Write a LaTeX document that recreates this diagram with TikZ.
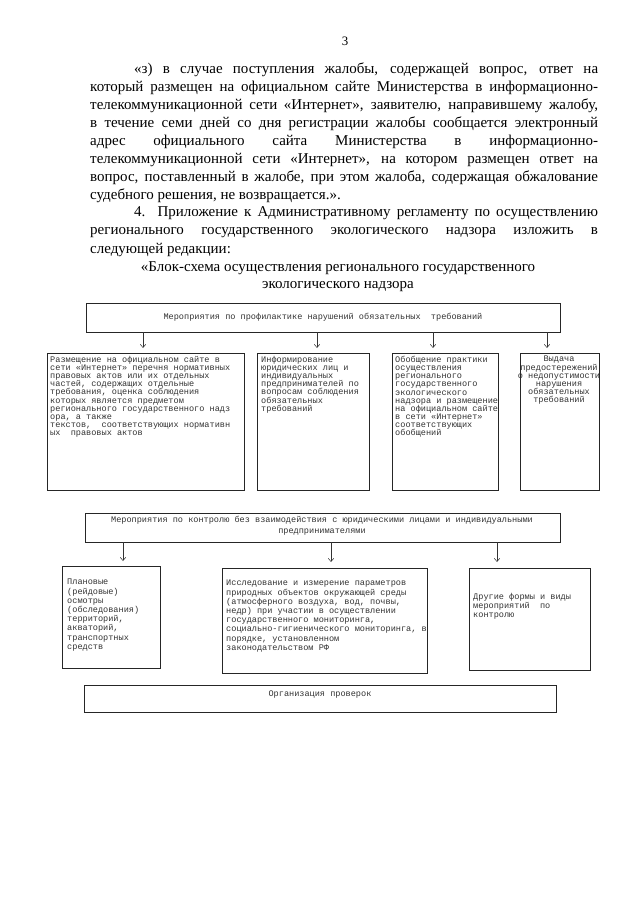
\documentclass[tikz,border=0pt]{standalone}
\usepackage{fontspec}
\setmainfont{Liberation Serif}
\newfontfamily\monofnt{Liberation Mono}
\newcommand{\tightlines}{\lineskiplimit=-5pt\relax}
\usetikzlibrary{arrows.meta,positioning,fit}

\begin{document}
\begin{tikzpicture}[x=0.0328cm,y=-0.0328cm,
    line/.style={anchor=base west,inner sep=0,font=\fontsize{14}{16}\selectfont},
    blk/.style={draw=black!85,line width=0.6pt,inner sep=0},
    btxt/.style={anchor=north west,inner sep=0,align=left,text=black!80,font=\monofnt\fontsize{8}{7.6}\selectfont\tightlines},
    ctxt/.style={inner sep=0,align=center,text=black!80,font=\monofnt\fontsize{8}{10}\selectfont},
    arr/.style={black!80,line width=0.5pt,-{Straight Barb[length=3pt,width=5pt]}}]
  \useasboundingbox[fill=white] (0,0) rectangle (640,905);
  % page number
  \node[font=\fontsize{12}{14}\selectfont] (pnum) at (345,41) {3};
  % text of the page
  \node[line] (l1) at (134,74) {\makebox[15.22cm][s]{«з) в случае поступления жалобы, содержащей вопрос, ответ на}};
  \node[line] (l2) at (90,92) {\makebox[16.66cm][s]{который размещен на официальном сайте Министерства в информационно-}};
  \node[line] (l3) at (90,110) {\makebox[16.66cm][s]{телекоммуникационной сети «Интернет», заявителю, направившему жалобу,}};
  \node[line] (l4) at (90,128) {\makebox[16.66cm][s]{в течение семи дней со дня регистрации жалобы сообщается электронный}};
  \node[line] (l5) at (90,146) {\makebox[16.66cm][s]{адрес официального сайта Министерства в информационно-}};
  \node[line] (l6) at (90,164) {\makebox[16.66cm][s]{телекоммуникационной сети «Интернет», на котором размещен ответ на}};
  \node[line] (l7) at (90,182) {\makebox[16.66cm][s]{вопрос, поставленный в жалобе, при этом жалоба, содержащая обжалование}};
  \node[line] (l8) at (90,200) {судебного решения, не возвращается.».};
  \node[line] (l9) at (134,217) {\makebox[15.22cm][s]{4. Приложение к Административному регламенту по осуществлению}};
  \node[line] (l10) at (90,235) {\makebox[16.66cm][s]{регионального государственного экологического надзора изложить в}};
  \node[line] (l11) at (90,253) {следующей редакции:};
  \node[line,anchor=base] (l12) at (338,271) {«Блок-схема осуществления регионального государственного};
  \node[line,anchor=base] (l13) at (338,288) {экологического надзора};
  % Draw prevention boxes
  \node[blk,fit={(86,303) (560,332)}] (prof) {};
  \node[ctxt] (proftxt) at (prof.center) {Мероприятия по профилактике нарушений обязательных\ \ требований};
  \node[blk,fit={(47,353) (244,490)}] (razm) {};
  \node[btxt] (razmtxt) at (50,356) {Размещение на официальном сайте в\\сети «Интернет» перечня нормативных\\правовых актов или их отдельных\\частей, содержащих отдельные\\требования, оценка соблюдения\\которых является предметом\\регионального государственного надз\\ора, а также\\текстов,\ \ соответствующих нормативн\\ых\ \ правовых актов};
  \node[blk,fit={(257,353) (369,490)}] (inf) {};
  \node[btxt] (inftxt) at (261,356) {Информирование\\юридических лиц и\\индивидуальных\\предпринимателей по\\вопросам соблюдения\\обязательных\\требований};
  \node[blk,fit={(392,353) (498,490)}] (obob) {};
  \node[btxt] (obobtxt) at (395,356) {Обобщение практики\\осуществления\\регионального\\государственного\\экологического\\надзора и размещение\\на официальном сайте\\в сети «Интернет»\\соответствующих\\обобщений};
  \node[blk,fit={(520,353) (599,490)}] (vyd) {};
  \node[btxt,anchor=north,align=center] (vydtxt) at (559,356) {Выдача\\предостережений\\о недопустимости\\нарушения\\обязательных\\требований};
  % arrows of the first level
  \coordinate (a1) at (143,348);
  \coordinate (a2) at (317,348);
  \coordinate (a3) at (433,348);
  \coordinate (a4) at (547,348);
  \draw[arr] (prof.south -| a1) -- (a1);
  \draw[arr] (prof.south -| a2) -- (a2);
  \draw[arr] (prof.south -| a3) -- (a3);
  \draw[arr] (prof.south -| a4) -- (a4);
  % Draw control boxes
  \node[blk,fit={(85,513) (560,542)}] (ctrl) {};
  \node[ctxt,anchor=north] (ctrltxt) at (322,516) {Мероприятия по контролю без взаимодействия с юридическими лицами и индивидуальными\\предпринимателями};
  \node[blk,fit={(62,566) (160,668)}] (plan) {};
  \node[btxt,font=\monofnt\fontsize{8}{8.6}\selectfont\tightlines] (plantxt) at (67,579) {Плановые\\(рейдовые)\\осмотры\\(обследования)\\территорий,\\акваторий,\\транспортных\\средств};
  \node[blk,fit={(222,568) (427,673)}] (issl) {};
  \node[btxt,font=\monofnt\fontsize{8}{8.6}\selectfont\tightlines] (issltxt) at (226,580) {Исследование и измерение параметров\\природных объектов окружающей среды\\(атмосферного воздуха, вод, почвы,\\недр) при участии в осуществлении\\государственного мониторинга,\\социально-гигиенического мониторинга, в\\порядке, установленном\\законодательством РФ};
  \node[blk,fit={(469,568) (590,670)}] (drug) {};
  \node[btxt,font=\monofnt\fontsize{8}{8.6}\selectfont\tightlines] (drugtxt) at (473,593) {Другие формы и виды\\мероприятий\ \ по\\контролю};
  % arrows of the second level
  \coordinate (b1) at (123,561);
  \coordinate (b2) at (331,562);
  \coordinate (b3) at (497,562);
  \draw[arr] (ctrl.south -| b1) -- (b1);
  \draw[arr] (ctrl.south -| b2) -- (b2);
  \draw[arr] (ctrl.south -| b3) -- (b3);
  % Draw inspection box
  \node[blk,fit={(84,685) (556,712)}] (org) {};
  \node[ctxt] (orgtxt) at (320,695) {Организация проверок};
\end{tikzpicture}
\end{document}
